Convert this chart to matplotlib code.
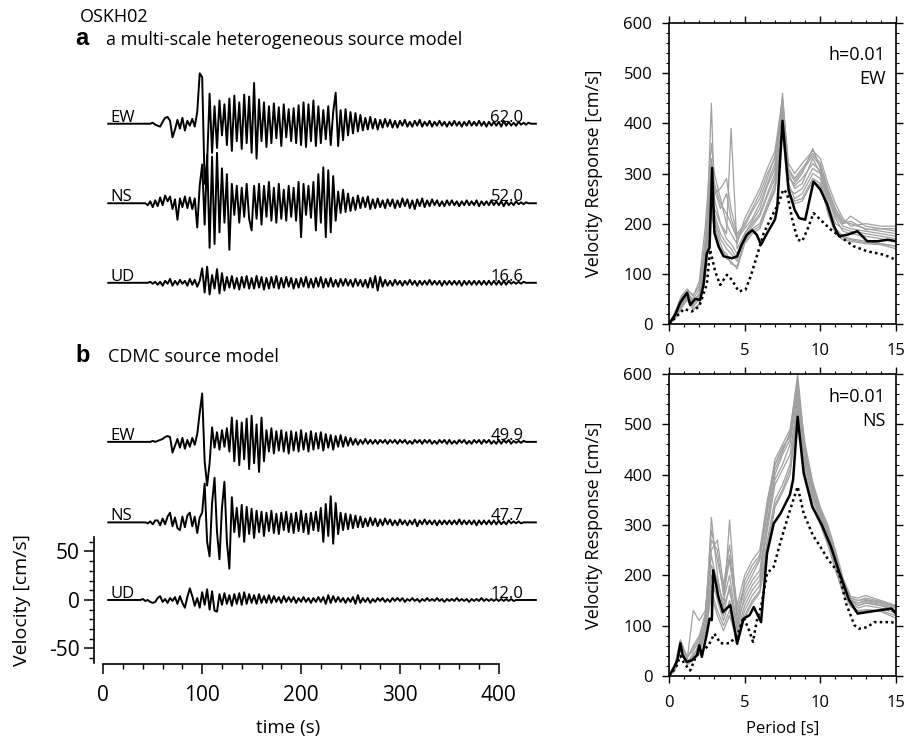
import numpy as np
import matplotlib
matplotlib.use('Agg')
import matplotlib.pyplot as plt

plt.rcParams['font.family'] = ['Open Sans', 'DejaVu Sans']
plt.rcParams['axes.unicode_minus'] = False

# ---------------- waveforms, cm/s, one sample every 2.5 s from t = 5 s ----------------
DT = 2.5
T0 = 5.0

ew_a = [0, 0, 0, 0, 0, 0, 0, 0, 0, 0, 0, 0, 0, 0, 0, 0, 0, 0, 1, -1,
        -2, -3, 2, 6, 7, 3, -14, -6, 4, -5, 6, -7, 3, -2, 5, -3, 12, 52,
        48, -62, -40, 31, -30, 18, -25, 24, -12, 20, -22, 26, -28, 29, -18, 22, -26, 30, -20, 28,
        -30, 42, -36, 25, -18, 22, -24, 18, -20, 21, -15, 17, -23, 20, -14, 15, -18, 16, -20, 19,
        -22, 22, -24, 20, -18, 24, -23, 18, -20, 14, -16, 18, -22, 12, 32, -23, 14, -17, 15, -12,
        12, -10, 11, -8, 9, -7, 6, -6, 7, -5, 5, -6, 4, -4, 5, -3, 4, -4, 3, -4,
        3, -2, 4, -3, 2, -3, 3, -2, 4, -3, 2, -2, 3, -3, 2, -2, 3, -2, 2, -3,
        2, -2, 3, -2, 2, -3, 2, -2, 3, -2, 2, -2, 3, -2, 2, -3, 2, -2, 2, -2,
        2, -3, 3, -2, 2, -2, 1, -2, 2, -1, 1, -1, 1, 0, 0, 0]
ns_a = [0, 0, 0, 0, 0, 0, 0, 0, 0, 0, 0, 0, 0, 0, 0, 0, -2, 2, -4, 3,
        -3, 6, -2, 8, 2, 7, -6, 4, -17, 5, -4, 7, -5, 6, -6, 5, -25, 18,
        40, -22, 50, -46, 48, -42, 52, -30, 36, -20, 30, -48, 20, -12, 18, -20, 16, -14, 20, -16,
        -28, 18, -16, 20, -22, 18, -14, 22, -18, 16, -20, 20, -16, 14, -18, 18, -14, 16, -18, 22,
        -35, 20, -12, 18, -15, 22, -28, 30, -20, 37, -35, 34, -30, 28, -18, 12, -10, 14, -9, 10,
        -8, 6, -7, 8, -5, 6, -4, 7, -6, 4, -5, 5, -4, 3, -5, 4, -3, 4, -5, 3,
        -4, 5, -3, 4, -5, 3, -6, 4, -3, 5, -4, 3, -3, 4, -2, 3, -3, 2, -3, 3,
        -2, 3, -2, 2, -3, 2, -2, 3, -2, 2, -2, 3, -3, 2, -2, 2, -2, 3, -2, 2,
        -2, 2, -3, 2, -2, 1, -2, 2, -1, 1, -1, 1, 0, 0, 0, 0]
ud_a = [0, 0, 0, 0, 0, 0, 0, 0, 0, 0, 0, 0, 0, 0, 0, 0, 0, 1, -1, 1,
        -2, 1, -3, 2, -1, 4, -3, 2, -2, 3, -1, 2, -3, 4, -2, 3, -4, 2,
        15, -10, 16.6, -12, 8, -6, 14, -11, 10, -8, 6, -5, 7, -6, 5, -7, 6, -5, 7, -6,
        5, -6, 7, -5, 6, -7, 5, -6, 6, -5, 7, -6, 5, -5, 6, -4, 5, -6, 4, -5,
        5, -4, 6, -5, 4, -5, 5, -4, 6, -5, 4, -4, 5, -4, 3, -4, 4, -3, 4, -3,
        3, -4, 4, -3, 3, -4, 3, -5, 5, -5, 7, -8, 6, -4, 3, -3, 2, -3, 3, -2,
        2, -3, 2, -2, 3, -2, 2, -3, 2, -2, 2, -2, 3, -2, 2, -2, 2, -3, 2, -2,
        2, -2, 2, -2, 2, -3, 2, -2, 2, -2, 2, -2, 2, -2, 2, -2, 2, -2, 2, -2,
        2, -2, 2, -2, 2, -1, 1, -1, 1, -1, 1, 0, 0, 0, 0, 0]
ew_b = [0, 0, 0, 0, 0, 0, 0, 0, 0, 0, 0, 0, 0, 0, 0, 0, 0, 0, 1, 0,
        1, 2, 3, 5, 6, 5, -11, -4, 3, -6, 4, -7, 2, -5, 4, -3, 8, 30,
        49.9, -20, -45, -22, 15, -6, 10, -8, 12, -5, 14, -10, 25, -20, 22, -24, 20, -18, 24, -28,
        27, -22, 18, -31, 25, -20, 12, -10, 14, -12, 11, -9, 12, -10, 10, -12, 11, -9, 10, -10,
        12, -8, 9, -10, 11, -8, 9, -7, 10, -9, 8, -6, 7, -8, 6, -5, 7, -5, 5, -4,
        4, -3, 3, -3, 2, -2, 3, -2, 2, -2, 2, -2, 2, -1, 2, -2, 2, -1, 2, -2,
        2, -1, 2, -2, 1, -2, 2, -1, 2, -2, 2, -1, 2, -2, 1, -2, 2, -1, 2, -2,
        2, -2, 1, -2, 2, -1, 2, -2, 1, -2, 2, -1, 2, -2, 2, -1, 2, -2, 1, -2,
        2, -2, 2, -1, 2, -2, 1, -1, 1, -1, 1, 0, 0, 0, 0, 0]
ns_b = [0, 0, 0, 0, 0, 0, 0, 0, 0, 0, 0, 0, 0, 0, 0, 0, -1, 1, -2, 2,
        2, -3, 4, -2, 6, 10, -4, 5, -6, -8, 6, -5, 7, 10, -4, 6, -11, 5,
        10, 40, -20, -35, 20, 46, -10, -38, 15, 42, -20, -47.7, 26, -10, 15, -15, 18, -20, 16, -12,
        14, -16, 12, -10, 11, -14, 10, -9, 12, -11, 9, -12, 10, -8, 11, -10, 9, -11, 10, -9,
        12, -10, 9, -12, 10, -8, 11, -9, 15, -20, 19, -14, 27, -22, 20, -12, 10, -8, 9, -7,
        8, -6, 7, -5, 6, -5, 4, -4, 5, -3, 4, -4, 3, -3, 4, -2, 3, -3, 2, -3,
        3, -2, 2, -3, 2, -2, 3, -4, 2, -2, 3, -2, 2, -2, 2, -3, 2, -2, 2, -2,
        2, -2, 2, -2, 3, -2, 2, -2, 2, -2, 2, -3, 2, -2, 2, -2, 2, -2, 2, -2,
        2, -2, 1, -2, 2, -1, 1, -1, 1, -1, 0, 0, 0, 0, 0, 0]
ud_b = [0, 0, 0, 0, 0, 0, 0, 0, 0, 0, 0, 0, 0, 0, 1, -1, 0, -2, -3, -2,
        2, 4, -2, 1, -3, 2, -1, 3, -4, 4, -3, -8, 3, 12, 4, -6, 2, -8,
        8, -5, 11, -10, 9, -11, -12, 6, -5, 7, -4, 5, -6, 6, -4, 7, -5, 8, -4, 6,
        -3, 5, -4, 6, -3, 4, -3, 5, -3, 4, -2, 3, -3, 4, -2, 3, -2, 3, -3, 2,
        -2, 3, -2, 2, -3, 2, -2, 3, -2, 3, -4, 5, -3, 4, -2, 3, -2, 2, -3, 2,
        -2, 3, -4, 5, -3, 2, -2, 2, -3, 1, -2, 2, -1, 2, -2, 1, -2, 2, -1, 2,
        -1, 2, -2, 1, -1, 2, -1, 1, -2, 1, -1, 2, -1, 1, -1, 2, -1, 1, -2, 1,
        -1, 1, -1, 2, -1, 1, -1, 1, -2, 1, -1, 1, -1, 2, -1, 1, -1, 1, -1, 1,
        -1, 1, -1, 1, -1, 1, -1, 0, 0, 0, 0, 0, 0, 0, 0, 0]

components = ['EW', 'NS', 'UD']
peaks_a = ['62.0', '52.0', '16.6']
peaks_b = ['49.9', '47.7', '12.0']
offsets_a = [491, 409, 327]
offsets_b = [163, 80, 0]

# ---------------- velocity response spectra (h = 0.01) ----------------
ew_grid = [0, 0.4, 0.8, 1.2, 1.6, 2.0, 2.4, 2.8, 3.0, 3.4, 3.8, 4.1, 4.5, 5.0, 5.5, 6.0,
           6.5, 7.0, 7.5, 7.9, 8.3, 8.8, 9.5, 10.0, 10.5, 11.0, 11.5, 12.0, 13.0, 14.0, 15.0]
ew_sims = [
    [0, 12, 35, 50, 30, 40, 110, 440, 250, 200, 180, 390, 150, 180, 200, 220, 260, 300, 460, 300, 270, 280, 330, 300, 240, 200, 190, 185, 180, 175, 170],
    [0, 18, 45, 65, 45, 60, 150, 330, 280, 240, 220, 200, 170, 190, 210, 240, 280, 320, 420, 290, 280, 300, 350, 310, 260, 220, 200, 215, 195, 190, 185],
    [0, 15, 40, 55, 35, 50, 120, 270, 220, 180, 160, 150, 130, 170, 190, 200, 240, 280, 400, 280, 250, 260, 300, 290, 230, 190, 175, 170, 165, 160, 155],
    [0, 22, 50, 60, 50, 70, 170, 300, 260, 270, 290, 230, 180, 200, 230, 260, 300, 330, 440, 310, 290, 310, 340, 320, 270, 230, 205, 200, 190, 185, 180],
    [0, 10, 30, 48, 28, 38, 95, 220, 190, 150, 140, 120, 115, 165, 185, 195, 235, 270, 390, 260, 245, 250, 290, 280, 220, 180, 168, 165, 160, 158, 150],
    [0, 20, 55, 70, 55, 85, 195, 360, 300, 250, 200, 180, 160, 210, 240, 270, 310, 345, 450, 320, 300, 320, 345, 330, 280, 240, 210, 195, 200, 195, 195],
    [0, 14, 38, 52, 40, 55, 130, 250, 230, 200, 170, 160, 140, 175, 195, 215, 255, 290, 410, 270, 260, 270, 310, 300, 250, 210, 185, 180, 175, 170, 165],
    [0, 16, 42, 58, 42, 62, 140, 290, 210, 170, 150, 140, 125, 180, 205, 230, 275, 310, 430, 295, 275, 290, 320, 305, 255, 215, 195, 190, 185, 180, 175],
    [0, 12, 36, 50, 36, 48, 115, 240, 200, 160, 130, 125, 110, 160, 180, 190, 230, 265, 380, 255, 240, 245, 285, 275, 225, 185, 172, 168, 162, 160, 155],
    [0, 24, 52, 66, 58, 75, 160, 320, 270, 230, 260, 210, 175, 195, 225, 250, 290, 335, 445, 305, 285, 305, 335, 315, 265, 225, 200, 205, 188, 190, 190],
]
ew_mean_p = [0, 0.4, 0.73, 0.95, 1.2, 1.4, 1.73, 2.06, 2.28, 2.5, 2.68, 2.85, 3.0, 3.27, 3.6, 4.16, 4.5, 4.8, 5.15, 5.5,
             5.8, 6.08, 6.48, 7.0, 7.15, 7.5, 7.9, 8.3, 8.6, 9.0, 9.55, 10.0, 10.46, 10.9, 11.24, 11.8, 12.45, 13.1, 13.8, 14.45, 15.0]
ew_mean_v = [0, 18, 42, 52, 62, 38, 50, 48, 78, 141, 152, 311, 182, 155, 135, 131, 135, 158, 178, 187,
             178, 158, 181, 208, 231, 405, 268, 228, 211, 208, 284, 268, 238, 195, 175, 178, 185, 165, 165, 168, 165]
ew_obs_p = [0, 1.0, 1.5, 2.0, 2.5, 2.72, 3.05, 3.38, 3.83, 4.16, 4.6, 5.05, 5.4, 5.8, 6.26, 6.8,
            7.25, 7.55, 7.8, 8.15, 8.5, 8.8, 9.14, 9.55, 10.0, 10.7, 11.6, 12.2, 13.1, 14.2, 15.0]
ew_obs_v = [0, 30, 25, 35, 80, 148, 105, 78, 98, 88, 65, 68, 95, 135, 181, 215,
            241, 268, 261, 208, 168, 165, 188, 221, 208, 188, 168, 155, 145, 138, 128]

ns_grid = [0, 0.4, 0.75, 1.2, 1.6, 2.0, 2.4, 2.8, 3.2, 3.6, 4.0, 4.5, 5.0, 5.5, 6.0, 6.5,
           7.0, 7.5, 8.0, 8.5, 9.0, 9.5, 10.0, 10.5, 11.0, 11.5, 12.0, 12.5, 13.0, 14.0, 15.0]
ns_sims = [
    [0, 15, 60, 28, 40, 60, 100, 315, 200, 130, 310, 110, 150, 180, 200, 300, 400, 440, 470, 580, 430, 360, 320, 280, 230, 180, 150, 140, 145, 140, 130],
    [0, 20, 70, 35, 60, 80, 120, 270, 250, 160, 230, 120, 170, 200, 230, 330, 420, 450, 480, 560, 450, 380, 330, 290, 240, 190, 155, 150, 155, 148, 138],
    [0, 12, 55, 25, 35, 50, 90, 200, 150, 110, 150, 80, 130, 160, 180, 270, 350, 380, 420, 540, 410, 350, 310, 270, 220, 175, 145, 135, 140, 135, 125],
    [0, 18, 65, 32, 130, 110, 130, 240, 180, 150, 200, 100, 190, 220, 240, 340, 430, 460, 490, 590, 440, 370, 325, 285, 235, 185, 150, 145, 150, 145, 135],
    [0, 10, 52, 22, 32, 45, 85, 160, 120, 90, 120, 70, 120, 150, 170, 260, 340, 370, 410, 530, 400, 340, 305, 265, 215, 170, 140, 130, 132, 130, 120],
    [0, 22, 72, 38, 50, 70, 115, 250, 270, 180, 260, 140, 200, 230, 250, 350, 420, 455, 475, 575, 460, 385, 335, 300, 250, 195, 158, 155, 160, 150, 140],
    [0, 14, 58, 26, 45, 55, 95, 180, 160, 120, 180, 90, 140, 170, 190, 290, 380, 410, 440, 550, 420, 355, 315, 275, 225, 180, 148, 140, 145, 140, 128],
    [0, 16, 62, 30, 38, 65, 105, 220, 190, 140, 170, 95, 160, 190, 210, 310, 390, 420, 460, 565, 435, 365, 320, 285, 230, 185, 152, 145, 148, 142, 132],
    [0, 13, 50, 24, 34, 48, 88, 170, 130, 100, 130, 75, 115, 145, 165, 250, 335, 365, 400, 520, 395, 335, 300, 260, 210, 165, 138, 128, 130, 128, 115],
    [0, 19, 68, 36, 55, 75, 125, 290, 230, 170, 240, 130, 180, 210, 235, 325, 410, 445, 485, 600, 445, 375, 330, 295, 245, 190, 155, 150, 152, 146, 136],
]
ns_mean_p = [0, 0.29, 0.55, 0.75, 0.9, 1.17, 1.5, 1.84, 2.0, 2.17, 2.5, 2.68, 2.83, 2.92, 3.27, 3.56, 4.05, 4.5, 4.93, 5.33,
             5.6, 5.93, 6.08, 6.48, 6.92, 7.37, 7.99, 8.2, 8.5, 8.9, 9.47, 10.1, 10.7, 11.24, 11.9, 12.46, 13.1, 14.0, 14.7, 15.0]
ns_mean_v = [0, 15, 31, 65, 41, 28, 31, 41, 61, 38, 84, 114, 111, 210, 157, 127, 141, 64, 114, 121,
             137, 117, 107, 244, 303, 323, 360, 390, 515, 403, 336, 300, 257, 207, 151, 124, 127, 131, 134, 124]
ns_obs_p = [0, 0.5, 0.75, 1.0, 1.4, 1.8, 2.2, 2.6, 3.0, 3.4, 4.0, 4.5, 4.93, 5.3, 5.55, 5.8, 6.08,
            6.48, 6.92, 7.4, 8.0, 8.5, 8.9, 9.5, 10.0, 10.5, 11.24, 11.7, 12.25, 12.57, 13.1, 13.56, 14.7, 15.0]
ns_obs_v = [0, 20, 40, 25, 11, 40, 50, 60, 84, 65, 65, 80, 117, 90, 68, 110, 137,
            204, 217, 270, 330, 376, 323, 280, 257, 232, 204, 144, 101, 94, 97, 107, 107, 104]

W, H = 914, 742
fig = plt.figure(figsize=(W / 100, H / 100), dpi=100)


def fx(px):
    return px / W


def fy(py):
    return 1 - py / H


# ---------------- left: seismograms ----------------
ax = fig.add_axes([fx(103.3), fy(664), fx(440), 614 / H])
ax.set_xlim(0, 445)
ax.set_ylim(-66, 567)
for name, wave, peak, off in zip(components * 2, [ew_a, ns_a, ud_a, ew_b, ns_b, ud_b],
                                 peaks_a + peaks_b, offsets_a + offsets_b):
    w = np.array(wave, dtype=float)
    t = T0 + DT * np.arange(len(w))
    ax.plot(t, w + off, color='k', lw=1.4)
    ax.text(7, off + 2, name, fontsize=12, ha='left', va='baseline')
    ax.text(425, off + 2, peak, fontsize=12, ha='right', va='baseline')

for s in ['top', 'right']:
    ax.spines[s].set_visible(False)
ax.spines['left'].set_position(('outward', 7))
ax.spines['left'].set_bounds(-65, 65)
ax.spines['bottom'].set_bounds(0, 400)
for s in ['left', 'bottom']:
    ax.spines[s].set_linewidth(1.2)
ax.set_xticks([0, 100, 200, 300, 400])
ax.set_xticks(np.arange(0, 401, 20), minor=True)
ax.set_yticks([-50, 0, 50])
ax.set_yticks(np.arange(-60, 61, 10), minor=True)
ax.tick_params(which='major', length=7, width=1.1, labelsize=15)
ax.tick_params(which='minor', length=3.5, width=1)
ax.tick_params(axis='x', pad=8)
ax.tick_params(axis='y', pad=3)

fig.text(fx(22), fy(600), 'Velocity [cm/s]', rotation=90, ha='center', va='center', fontsize=14)
fig.text(fx(288), fy(728), 'time (s)', ha='center', va='center', fontsize=13.5)
fig.text(fx(80), fy(22), 'OSKH02', ha='left', va='baseline', fontsize=13)
fig.text(fx(75), fy(45), 'a', ha='left', va='baseline', fontsize=17, fontweight='bold',
         family=['Liberation Sans', 'DejaVu Sans'])
fig.text(fx(106), fy(45), 'a multi-scale heterogeneous source model', ha='left', va='baseline', fontsize=13)
fig.text(fx(75), fy(362), 'b', ha='left', va='baseline', fontsize=17, fontweight='bold',
         family=['Liberation Sans', 'DejaVu Sans'])
fig.text(fx(108), fy(362), 'CDMC source model', ha='left', va='baseline', fontsize=13)


# ---------------- right: response spectra ----------------
def spectrum(ax, grid, sims, mp, mv, op, ov, comp, ty, cy):
    for s in sims:
        ax.plot(grid, s, color='#a0a0a0', lw=0.9)
    ax.plot(op, ov, color='k', lw=1.8, ls=(0, (1, 1.3)))
    ax.plot(mp, mv, color='k', lw=1.8)
    ax.set_xlim(0, 15)
    ax.set_ylim(0, 600)
    ax.set_xticks([0, 5, 10, 15])
    ax.set_xticks(np.arange(0, 16, 1), minor=True)
    ax.set_yticks(np.arange(0, 601, 100))
    ax.set_yticks(np.arange(0, 601, 20), minor=True)
    ax.tick_params(which='both', direction='out', top=True, right=True, labelsize=12)
    ax.tick_params(which='major', length=5, width=1)
    ax.tick_params(which='minor', length=2.5, width=0.8)
    ax.tick_params(axis='x', pad=9)
    ax.tick_params(axis='y', pad=7)
    for sp in ax.spines.values():
        sp.set_linewidth(1.2)
    ax.set_ylabel('Velocity Response [cm/s]', fontsize=13)
    ax.yaxis.set_label_coords(-0.29, 0.5)
    ax.text(0.955, ty, 'h=0.01', transform=ax.transAxes, ha='right', va='center', fontsize=13)
    ax.text(0.955, cy, comp, transform=ax.transAxes, ha='right', va='center', fontsize=13)


ax1 = fig.add_axes([fx(669), fy(324), fx(227), 301 / H])
spectrum(ax1, ew_grid, ew_sims, ew_mean_p, ew_mean_v, ew_obs_p, ew_obs_v, 'EW', 0.895, 0.815)
ax2 = fig.add_axes([fx(669), fy(676), fx(227), 302 / H])
spectrum(ax2, ns_grid, ns_sims, ns_mean_p, ns_mean_v, ns_obs_p, ns_obs_v, 'NS', 0.925, 0.845)
fig.text(fx(783), fy(729), 'Period [s]', ha='center', va='center', fontsize=12)

fig.savefig('out.png', dpi=100)
